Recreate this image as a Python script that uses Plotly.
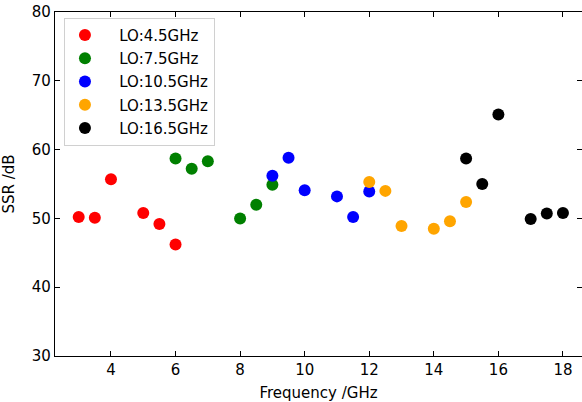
import plotly.graph_objects as go

labels = ["LO:4.5GHz", "LO:7.5GHz", "LO:10.5GHz", "LO:13.5GHz", "LO:16.5GHz"]
colors = ["red", "green", "blue", "orange", "black"]
freqs = [
    [3, 3.5, 4, 5, 5.5, 6],
    [6, 6.5, 7, 8, 8.5, 9],
    [9, 9.5, 10, 11, 11.5, 12],
    [12, 12.5, 13, 14, 14.5, 15],
    [15, 15.5, 16, 17, 17.5, 18],
]
ssr = [
    [50.2, 50.1, 55.7, 50.8, 49.2, 46.2],
    [58.7, 57.2, 58.3, 50.0, 52.0, 54.9],
    [56.2, 58.8, 54.1, 53.2, 50.2, 53.9],
    [55.3, 54.0, 48.9, 48.5, 49.6, 52.4],
    [58.7, 55.0, 65.1, 49.9, 50.7, 50.8],
]

fig = go.Figure()
for lab, col, xs, ys in zip(labels, colors, freqs, ssr):
    fig.add_trace(go.Scatter(x=xs, y=ys, mode="markers",
                             name="\u00a0\u00a0\u00a0" + lab,
                             legendgroup=lab,
                             marker=dict(color=col, size=12, line=dict(width=0))))

font = dict(family="DejaVu Sans", size=15, color="black")
axis_common = dict(showgrid=False, zeroline=False, showline=True, linecolor="black", linewidth=1.2,
                   mirror="allticks", ticks="inside", ticklen=5, tickwidth=1, tickcolor="black",
                   tickfont=font, automargin=False)
fig.update_layout(
    width=582, height=402,
    margin=dict(l=55, r=0, t=12, b=46),
    paper_bgcolor="white", plot_bgcolor="white",
    font=font,
    showlegend=True,
    legend=dict(x=0.017, y=0.983, xanchor="left", yanchor="top",
                bgcolor="rgba(255,255,255,0.8)", bordercolor="#d0d0d0", borderwidth=1,
                font=font, tracegroupgap=0.7, itemsizing="constant", itemwidth=30),
    xaxis=dict(axis_common, range=[2.266, 18.59], tickvals=[4, 6, 8, 10, 12, 14, 16, 18],
               title=dict(text="Frequency /GHz", font=font)),
    yaxis=dict(axis_common, range=[30, 80], tickvals=[30, 40, 50, 60, 70, 80],
               title=dict(text="SSR /dB", font=font)),
)
fig.write_html("out.html", config={"displayModeBar": False},
               post_script="document.body.style.margin='0';document.body.style.overflow='hidden';")
